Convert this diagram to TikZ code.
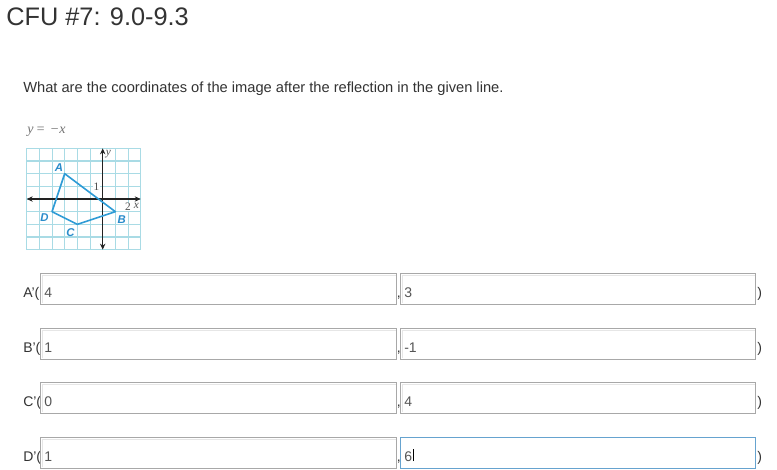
\documentclass[tikz,border=0pt]{standalone}
\usepackage{fontspec}
\setmainfont{Liberation Sans}
\newfontfamily\serifx{Liberation Serif}
\usetikzlibrary{arrows.meta}
\definecolor{txt}{HTML}{333333}
\definecolor{val}{HTML}{555555}
\definecolor{boxline}{HTML}{A8A8A8}
\definecolor{boxin}{HTML}{E6E6E6}
\definecolor{focus}{HTML}{66A3CF}
\definecolor{gridc}{HTML}{A9DBE5}
\definecolor{poly}{HTML}{2E9BD6}
\definecolor{lbl}{HTML}{2A8CCB}
\definecolor{axisc}{HTML}{222222}
\tikzset{
  lab/.style={anchor=base west, inner sep=0, text=txt, font=\fontsize{10.5}{12}\selectfont},
  valtxt/.style={anchor=base west, inner sep=0, text=val, font=\fontsize{10.5}{12}\selectfont},
  inbox/.style={draw=boxline, line width=0.75pt, anchor=north west, inner sep=0, minimum height=23.25pt, fill=white},
  wbox/.style={inbox, minimum width=267pt},
  wboxb/.style={inbox, minimum width=266.25pt},
  ptlab/.style={text=lbl, inner sep=0, font=\fontsize{8.5}{9}\selectfont\bfseries\itshape},
  axlab/.style={text=axisc!80, inner sep=0, font=\serifx\fontsize{8.5}{9}\selectfont},
  axarrow/.style={axisc, line width=0.9pt, {Stealth[length=4.5pt,width=4pt]}-{Stealth[length=4.5pt,width=4pt]}},
}
\begin{document}
\begin{tikzpicture}[x=0.75pt,y=-0.75pt]
\useasboundingbox (0,0) rectangle (777,469);
\fill[white] (0,0) rectangle (777,469);
\node[anchor=base west, inner sep=0, text=txt, font=\fontsize{19}{22}\selectfont] (title) at (6,25) {CFU \#7: 9.0-9.3};
\node[anchor=base west, inner sep=0, text=txt, font=\fontsize{11}{13}\selectfont] (question) at (23,92) {What are the coordinates of the image after the reflection in the given line.};
\node[anchor=base west, inner sep=0, text=black!55, font=\serifx\fontsize{10.5}{12}\selectfont\itshape] (eqn) at (27,133) {y\,=\,\,\textminus x};
% graph
\begin{scope}[shift={(102.7,199)}, x=9.5pt, y=9.5pt]
  \draw[gridc, line width=0.8pt, step=1] (-6,-4) grid (3,4);
  \draw[axarrow] (-6,0) -- (3,0);
  \draw[axarrow] (0,-4) -- (0,4);
  \coordinate (A) at (-3,2);
  \coordinate (B) at (1,-1);
  \coordinate (C) at (-2,-2);
  \coordinate (D) at (-4,-1);
  \draw[poly, line width=1.2pt, line join=round] (A) -- (B) -- (C) -- (D) -- cycle;
  \node[ptlab] (la) at (-3.45,2.45) {A};
  \node[ptlab] (lb) at (1.5,-1.6) {B};
  \node[ptlab] (lc) at (-2.55,-2.65) {C};
  \node[ptlab] (ld) at (-4.6,-1.5) {D};
  \node[axlab, fill=white, inner sep=0.4pt] (one) at (-0.5,1.0) {1};
  \node[axlab, fill=white, inner sep=0.4pt] (two) at (2,-0.62) {2};
  \node[axlab, font=\serifx\fontsize{8.5}{9}\selectfont\itshape] (xl) at (2.65,-0.55) {x};
  \node[axlab, font=\serifx\fontsize{8.5}{9}\selectfont\itshape] (yl) at (0.45,3.55) {y};
\end{scope}
% answer rows
\foreach \nm/\yy in {A/273, B/328, C/382, D/437}{
  \node[lab] (l\nm) at (23,\yy+24) {\nm'(};
  \node[wbox] (b\nm1) at (40,\yy) {};
  \node[lab] (c\nm) at (396.6,\yy+24) {,};
  \node[lab] (r\nm) at (757,\yy+24) {)};
}
\foreach \nm/\yy in {A/273, B/328, C/382}{
  \node[wboxb] (b\nm2) at (400,\yy) {};
}
\node[wboxb, draw=focus] (bD2) at (400,437) {};
\foreach \nm in {A,B,C,D}{
  \draw[boxin, line width=0.75pt] ([xshift=1.5pt,yshift=-22.5pt]b\nm1.north west) -- ([xshift=1.5pt,yshift=-1.5pt]b\nm1.north west) -- ([xshift=-1pt,yshift=-1.5pt]b\nm1.north east);
}
\foreach \nm in {A,B,C}{
  \draw[boxin, line width=0.75pt] ([xshift=1.5pt,yshift=-22.5pt]b\nm2.north west) -- ([xshift=1.5pt,yshift=-1.5pt]b\nm2.north west) -- ([xshift=-1pt,yshift=-1.5pt]b\nm2.north east);
}
\node[valtxt] (vA1) at (44,297) {4};
\node[valtxt] (vA2) at (404,297) {3};
\node[valtxt] (vB1) at (44,352) {1};
\node[valtxt] (vB2) at (404,352) {-1};
\node[valtxt] (vC1) at (44,406) {0};
\node[valtxt] (vC2) at (404,406) {4};
\node[valtxt] (vD1) at (44,461) {1};
\node[valtxt] (vD2) at (404,461) {6};
\draw[black, line width=0.5pt] ([xshift=0.4pt]vD2.base east) -- ([xshift=0.4pt,yshift=9pt]vD2.base east);
\end{tikzpicture}
\end{document}
